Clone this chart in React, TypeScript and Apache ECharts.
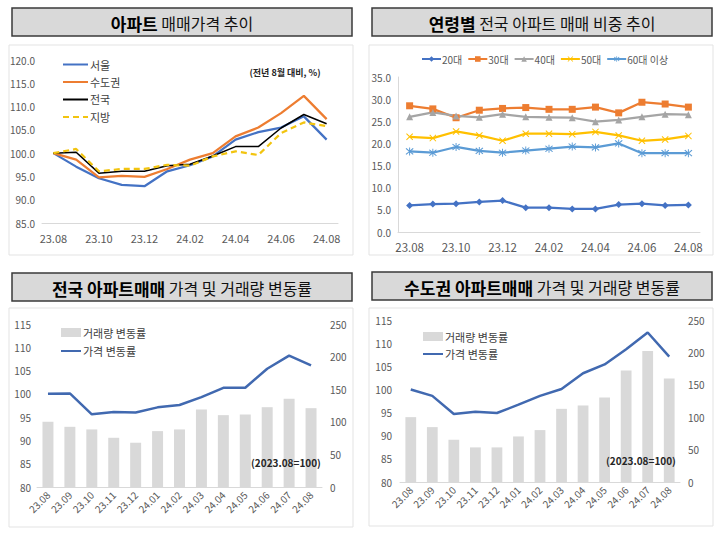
import React, { useEffect, useRef } from "react";
import * as echarts from "echarts";

const months = ["23.08","23.09","23.10","23.11","23.12","24.01","24.02","24.03","24.04","24.05","24.06","24.07","24.08"];

// Panel 1: 아파트 매매가격 추이
const seoul = [100, 97.1, 94.6, 93.2, 92.9, 96.1, 97.4, 99.3, 102.9, 104.5, 105.5, 107.9, 102.9];
const capital = [100, 98.6, 94.8, 95.1, 94.9, 96.6, 98.6, 100.0, 103.6, 105.5, 108.6, 112.3, 107.3];
const nation = [100, 100.2, 95.7, 96.1, 96.1, 97.3, 97.6, 99.4, 101.4, 101.4, 105.4, 108.3, 106.3];
const region = [100, 100.9, 96.1, 96.6, 96.6, 97.5, 97.3, 99.3, 100.4, 99.6, 104.3, 106.6, 105.8];

// Panel 2: 연령별 비중
const age20 = [6.0, 6.3, 6.4, 6.8, 7.1, 5.5, 5.5, 5.2, 5.2, 6.2, 6.4, 6.0, 6.1];
const age30 = [28.5, 27.8, 25.8, 27.5, 27.9, 28.1, 27.7, 27.7, 28.2, 26.9, 29.3, 28.9, 28.2];
const age40 = [26.0, 27.0, 26.2, 25.9, 26.6, 26.0, 25.9, 25.8, 24.9, 25.3, 26.0, 26.6, 26.5];
const age50 = [21.5, 21.2, 22.7, 21.8, 20.6, 22.2, 22.2, 22.1, 22.6, 21.8, 20.6, 20.9, 21.7];
const age60 = [18.2, 17.9, 19.2, 18.3, 17.9, 18.4, 18.8, 19.3, 19.1, 20.0, 17.8, 17.8, 17.8];

// Panel 3: 전국 가격 및 거래량
const nationVolume = [100, 92.3, 88.3, 75.5, 67.9, 85.7, 88.3, 118.9, 110.2, 111.2, 122.4, 135.2, 120.9];
const nationPrice = [100, 100.1, 95.6, 96.1, 96.0, 97.1, 97.6, 99.3, 101.3, 101.3, 105.4, 108.2, 106.1];

// Panel 4: 수도권 가격 및 거래량
const capitalVolume = [100.1, 84.7, 65.2, 53.4, 53.4, 70.3, 80.1, 112.9, 118.1, 130.4, 172, 202.3, 159.7];
const capitalPrice = [100, 98.6, 94.7, 95.2, 94.9, 96.7, 98.6, 100.1, 103.5, 105.4, 108.7, 112.3, 107.1];

const FONT = "'Noto Sans CJK KR', 'Noto Sans', sans-serif";
const LABEL = "#595959";
const AXIS = "#d9d9d9";

const xSymbol = "path://M1,0L5,4L9,0L10,1L6,5L10,9L9,10L5,6L1,10L0,9L4,5L0,1Z";
const starSymbol = "path://M1,0L5,4L9,0L10,1L6,5L10,9L9,10L5,6L1,10L0,9L4,5L0,1ZM4.4,-1L5.6,-1L5.6,11L4.4,11Z";

function titleBox(x: number, y: number, w: number, h: number, bold: string, rest: string) {
  return [
    {
      type: "rect",
      shape: { x, y, width: w, height: h },
      style: { fill: "#d9d9d9", stroke: "#3a3a3a", lineWidth: 1.5 },
    },
    {
      type: "text",
      x: x + w / 2,
      y: y + h / 2 + 1,
      style: {
        text: "{b|" + bold + "} " + rest,
        fontFamily: FONT,
        fontSize: 16,
        fill: "#111",
        align: "center",
        verticalAlign: "middle",
        rich: { b: { fontWeight: "bold", fontSize: 17, fontFamily: FONT, fill: "#000" } },
      },
    },
  ];
}

function chartBox(x: number, y: number, w: number, h: number) {
  return {
    type: "rect",
    shape: { x, y, width: w, height: h },
    style: { fill: "#fff", stroke: "#e3e3e3", lineWidth: 1 },
    z: -10,
  };
}

function note(x: number, y: number, text: string, size: number) {
  return {
    type: "text",
    x,
    y,
    z: 100,
    style: { text, fontFamily: FONT, fontSize: size, fontWeight: "bold", fill: "#262626", align: "center", verticalAlign: "middle" },
  };
}

function catAxis(gridIndex: number, rotate: number, interval: number, fontSize: number) {
  return {
    type: "category",
    gridIndex,
    data: months,
    boundaryGap: true,
    axisLine: { show: true, lineStyle: { color: AXIS, width: 1 } },
    axisTick: { show: false },
    axisLabel: {
      interval,
      rotate,
      color: LABEL,
      fontSize,
      fontFamily: FONT,
      margin: rotate ? 6 : 9,
    },
  };
}

function valAxis(gridIndex: number, min: number, max: number, interval: number, decimals: number, position: string, margin: number, showLine = false) {
  return {
    type: "value",
    gridIndex,
    min,
    max,
    interval,
    position,
    splitLine: { show: false },
    axisTick: { show: false },
    axisLine: { show: showLine, lineStyle: { color: AXIS } },
    axisLabel: {
      color: LABEL,
      fontSize: 10,
      fontFamily: FONT,
      margin,
      formatter: (v: number) => v.toFixed(decimals),
    },
  };
}

export default function App() {
  const ref = useRef<HTMLDivElement>(null);
  useEffect(() => {
    if (!ref.current) return;
    const chart = echarts.init(ref.current, undefined, { renderer: "svg" });
    const option: any = {
      animation: false,
      backgroundColor: "#fff",
      textStyle: { fontFamily: FONT },
      graphic: [
        chartBox(9, 45, 344, 210),
        chartBox(369, 45, 344, 210),
        chartBox(9, 308, 344, 219),
        chartBox(369, 308, 344, 218),
        ...titleBox(12, 8, 340, 28, "아파트", "매매가격 추이"),
        ...titleBox(372, 8, 340, 28, "연령별", "전국 아파트 매매 비중 추이"),
        ...titleBox(12, 273, 340, 28, "전국 아파트매매", "가격 및 거래량 변동률"),
        ...titleBox(372, 272, 340, 28, "수도권 아파트매매", "가격 및 거래량 변동률"),
        note(285, 72, "(전년 8월 대비, %)", 9),
        note(286, 462, "(2023.08=100)", 10),
        note(641, 460, "(2023.08=100)", 10),
      ],
      grid: [
        { left: 42, top: 60, width: 296, height: 163 },
        { left: 398, top: 77, width: 302, height: 155 },
        { left: 37, top: 324, width: 285, height: 163 },
        { left: 400, top: 320, width: 280, height: 162 },
      ],
      xAxis: [
        catAxis(0, 0, 1, 11),
        catAxis(1, 0, 1, 11.5),
        catAxis(2, 45, 0, 10),
        catAxis(3, 45, 0, 10),
      ],
      yAxis: [
        valAxis(0, 85, 120, 5, 1, "left", 7),
        valAxis(1, 0, 35, 5, 1, "left", 7, true),
        valAxis(2, 80, 115, 5, 0, "left", 6),
        valAxis(2, 0, 250, 50, 0, "right", 8),
        valAxis(3, 80, 115, 5, 0, "left", 8),
        valAxis(3, 0, 250, 50, 0, "right", 8),
      ],
      legend: [
        {
          orient: "vertical",
          left: 57,
          top: 54,
          itemWidth: 25,
          itemHeight: 10,
          itemGap: 6.5,
          itemStyle: { opacity: 0 },
          textStyle: { fontSize: 11, color: "#404040", fontFamily: FONT, padding: [0, 0, 0, -3] },
          data: ["서울", "수도권", "전국", "지방"],
        },
        {
          orient: "horizontal",
          left: 416,
          top: 49,
          width: 300,
          itemWidth: 19,
          itemHeight: 7,
          itemGap: 5,
          textStyle: { fontSize: 10, color: "#595959", fontFamily: FONT, padding: [0, 0, 0, -4] },
          data: ["20대", "30대", "40대", "50대", "60대 이상"],
        },
        {
          orient: "vertical",
          left: 55,
          top: 322,
          itemWidth: 20,
          itemHeight: 9,
          itemGap: 7.5,
          itemStyle: { opacity: 0 },
          textStyle: { fontSize: 11, color: "#404040", fontFamily: FONT, padding: [0, 0, 0, -3] },
          data: [{ name: "거래량 변동률", icon: "rect", itemStyle: { opacity: 1 } }, "가격 변동률"],
        },
        {
          orient: "vertical",
          left: 417,
          top: 326,
          itemWidth: 20,
          itemHeight: 9,
          itemGap: 6.5,
          itemStyle: { opacity: 0 },
          textStyle: { fontSize: 11, color: "#404040", fontFamily: FONT, padding: [0, 0, 0, -3] },
          data: [{ name: "거래량 변동률", icon: "rect", itemStyle: { opacity: 1 } }, "가격 변동률"],
        },
      ],
      series: [
        { name: "서울", type: "line", xAxisIndex: 0, yAxisIndex: 0, data: seoul, symbol: "none", lineStyle: { color: "#4472c4", width: 2.25 }, itemStyle: { color: "#4472c4" } },
        { name: "수도권", type: "line", xAxisIndex: 0, yAxisIndex: 0, data: capital, symbol: "none", lineStyle: { color: "#ed7d31", width: 2.25 }, itemStyle: { color: "#ed7d31" } },
        { name: "전국", type: "line", xAxisIndex: 0, yAxisIndex: 0, data: nation, symbol: "none", lineStyle: { color: "#000", width: 1.5 }, itemStyle: { color: "#000" } },
        { name: "지방", type: "line", xAxisIndex: 0, yAxisIndex: 0, data: region, symbol: "none", lineStyle: { color: "#f2c40f", width: 2.25, type: [6, 4] }, itemStyle: { color: "#f2c40f" } },

        { name: "20대", type: "line", xAxisIndex: 1, yAxisIndex: 1, data: age20, symbol: "diamond", symbolSize: 7, lineStyle: { color: "#4472c4", width: 2.25 }, itemStyle: { color: "#4472c4" } },
        { name: "30대", type: "line", xAxisIndex: 1, yAxisIndex: 1, data: age30, symbol: "rect", symbolSize: 7, lineStyle: { color: "#ed7d31", width: 2.25 }, itemStyle: { color: "#ed7d31" } },
        { name: "40대", type: "line", xAxisIndex: 1, yAxisIndex: 1, data: age40, symbol: "triangle", symbolSize: 7, lineStyle: { color: "#a5a5a5", width: 2.25 }, itemStyle: { color: "#a5a5a5" } },
        { name: "50대", type: "line", xAxisIndex: 1, yAxisIndex: 1, data: age50, symbol: xSymbol, symbolSize: 7, lineStyle: { color: "#ffc000", width: 2.25 }, itemStyle: { color: "#ffc000" } },
        { name: "60대 이상", type: "line", xAxisIndex: 1, yAxisIndex: 1, data: age60, symbol: starSymbol, symbolSize: 8, lineStyle: { color: "#5b9bd5", width: 2.25 }, itemStyle: { color: "#5b9bd5" } },

        { name: "거래량 변동률", type: "bar", xAxisIndex: 2, yAxisIndex: 3, data: nationVolume, barWidth: "50%", itemStyle: { color: "#d9d9d9" } },
        { name: "가격 변동률", type: "line", xAxisIndex: 2, yAxisIndex: 2, data: nationPrice, symbol: "none", lineStyle: { color: "#4169b0", width: 2.5 }, itemStyle: { color: "#4169b0" } },

        { name: "거래량 변동률", type: "bar", xAxisIndex: 3, yAxisIndex: 5, data: capitalVolume, barWidth: "50%", itemStyle: { color: "#d9d9d9" } },
        { name: "가격 변동률", type: "line", xAxisIndex: 3, yAxisIndex: 4, data: capitalPrice, symbol: "none", lineStyle: { color: "#4169b0", width: 2.5 }, itemStyle: { color: "#4169b0" } },
      ],
    };
    chart.setOption(option);
    return () => chart.dispose();
  }, []);
  return (
    <div
      ref={ref}
      style={{ position: "absolute", left: 0, top: 0, width: 720, height: 536, background: "#fff" }}
    />
  );
}
